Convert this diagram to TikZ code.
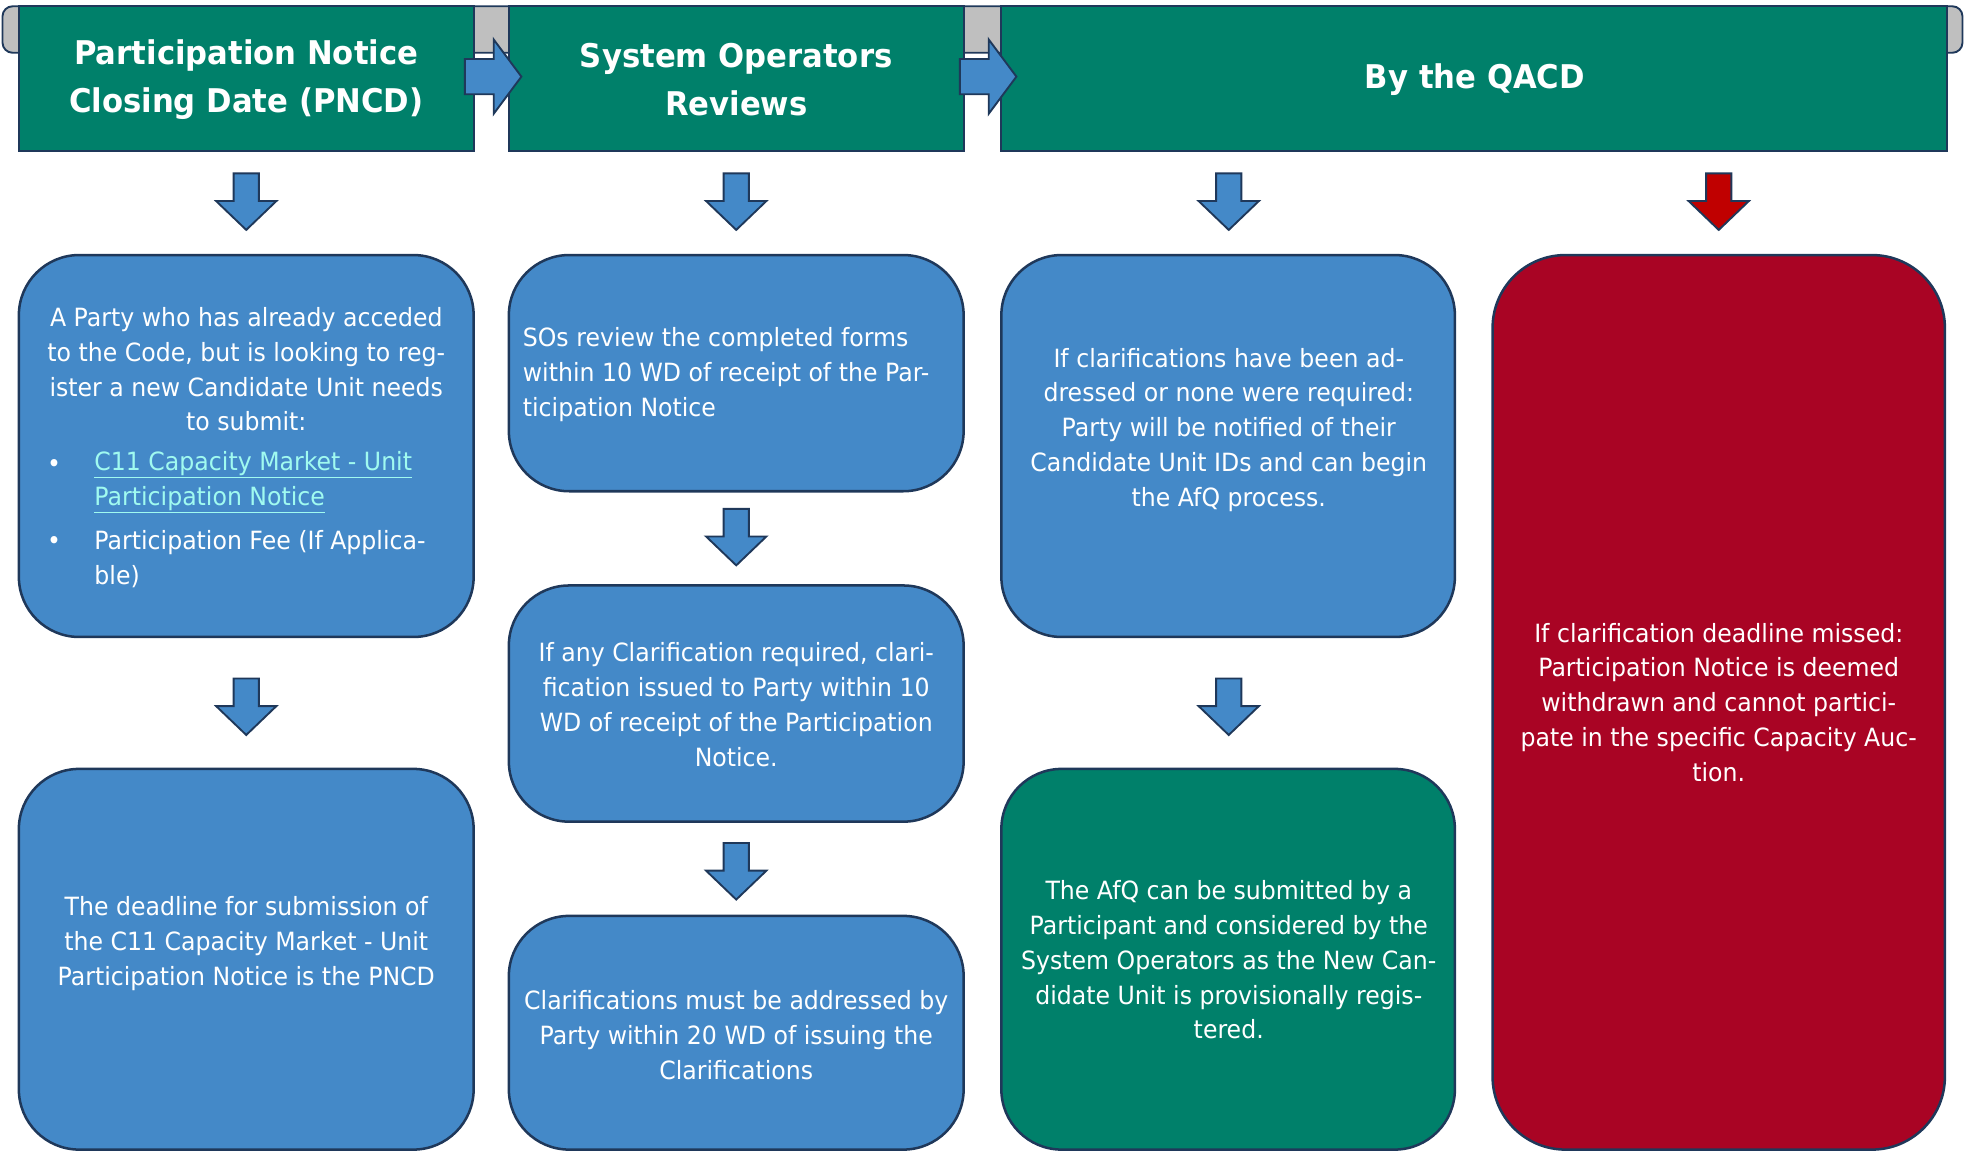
\documentclass[tikz,border=0pt]{standalone}
\usepackage{fontspec}
\setmainfont{DejaVu Sans}[FakeStretch=0.94]
\definecolor{hdr}{RGB}{0,128,106}
\definecolor{blu}{RGB}{68,137,200}
\definecolor{redb}{RGB}{169,4,36}
\definecolor{reda}{RGB}{192,0,0}
\definecolor{edgec}{RGB}{31,56,90}
\definecolor{barg}{RGB}{191,191,191}
\definecolor{linkc}{RGB}{160,250,240}
\newcommand\lnk[1]{{\color{linkc}\underline{#1}}}
\begin{document}
\begin{tikzpicture}[x=1pt,y=-1pt,
  hdrbox/.style={draw=edgec,line width=1.5pt,fill=hdr,rectangle,inner sep=0,minimum height=115pt},
  card/.style={draw=edgec,line width=2pt,rectangle,rounded corners=48pt,inner sep=0},
  txt/.style={text=white,inner sep=0,font=\fontsize{20}{27.7}\selectfont},
  htxt/.style={text=white,inner sep=0,align=center,font=\bfseries\fontsize{26}{38}\selectfont},
  arr/.style={draw=edgec,line width=1.5pt,fill=blu,line join=miter},
  arrred/.style={draw=edgec,line width=1.5pt,fill=reda,line join=miter},
  dn/.pic={\path[arr] (-10,0)--(10,0)--(10,22)--(24,22)--(0,45)--(-24,22)--(-10,22)--cycle;},
  dnred/.pic={\path[arrred] (-10,0)--(10,0)--(10,22)--(24,22)--(0,45)--(-24,22)--(-10,22)--cycle;},
  rt/.pic={\path[arr] (0,-14)--(23,-14)--(23,-29.5)--(45,0)--(23,29.5)--(23,14)--(0,14)--cycle;}
]
\useasboundingbox (0,0) rectangle (1568,917);
% top bar
\draw[draw=edgec,line width=1.5pt,fill=barg,rounded corners=8pt] (2,5) rectangle (1562,42);
% headers
\node[hdrbox,minimum width=362pt] (h1) at (196,62.5) {};
\node[hdrbox,minimum width=362pt] (h2) at (586,62.5) {};
\node[hdrbox,minimum width=753pt] (h3) at (1173.5,62.5) {};
\node[htxt] (ht1) at (196,63.5) {Participation Notice\\Closing Date (PNCD)};
\node[htxt] (ht2) at (586,63.5) {System Operators\\Reviews};
\node[htxt] (ht3) at (1174,63.5) {By the QACD};
\pic (r1) at (370,61) {rt};
\pic (r2) at (764,61) {rt};
% down arrows
\pic (d1) at (196,138) {dn};
\pic (d2) at (586,138) {dn};
\pic (d3) at (978,138) {dn};
\pic (d4) at (1368,138) {dnred};
\pic (d5) at (586,405) {dn};
\pic (d6) at (196,540) {dn};
\pic (d7) at (586,671) {dn};
\pic (d8) at (978,540) {dn};
% cards
\node[card,fill=blu,minimum width=362pt,minimum height=304pt] (b1) at (196,355) {};
\node[card,fill=blu,minimum width=362pt,minimum height=188pt] (b2) at (586,297) {};
\node[card,fill=blu,minimum width=361pt,minimum height=304pt] (b3) at (977.5,355) {};
\node[card,fill=redb,rounded corners=58pt,minimum width=360pt,minimum height=712pt] (b4) at (1368,559) {};
\node[card,fill=blu,minimum width=362pt,minimum height=188pt] (b5) at (586,560) {};
\node[card,fill=blu,minimum width=362pt,minimum height=186pt] (b6) at (586,822) {};
\node[card,fill=blu,minimum width=362pt,minimum height=303pt] (b7) at (196,763.5) {};
\node[card,fill=hdr,minimum width=361pt,minimum height=303pt] (b8) at (977.5,763.5) {};
% texts
\node[txt,align=center] (t1a) at (196,294) {A Party who has already acceded\\to the Code, but is looking to reg-\\ister a new Candidate Unit needs\\to submit:};
\node[txt] (bu1) at (43,371) {•};
\node[txt,anchor=west,align=left] (t1b) at (75,384) {\lnk{C11 Capacity Market - Unit}\\\lnk{Participation Notice}};
\node[txt] (bu2) at (43,432) {•};
\node[txt,anchor=west,align=left] (t1c) at (75,445) {Participation Fee (If Applica-\\ble)};
\node[txt,anchor=west,align=left] (t2) at (416,298) {SOs review the completed forms\\within 10 WD of receipt of the Par-\\ticipation Notice};
\node[txt,align=center] (t5) at (586,561) {If any Clarification required, clari-\\fication issued to Party within 10\\WD of receipt of the Participation\\Notice.};
\node[txt,align=center] (t6) at (586,824) {Clarifications must be addressed by\\Party within 20 WD of issuing the\\Clarifications};
\node[txt,align=center] (t3) at (978,342) {If clarifications have been ad-\\dressed or none were required:\\Party will be notified of their\\Candidate Unit IDs and can begin\\the AfQ process.};
\node[txt,align=center] (t8) at (978,764) {The AfQ can be submitted by a\\Participant and considered by the\\System Operators as the New Can-\\didate Unit is provisionally regis-\\tered.};
\node[txt,align=center] (t4) at (1368,559) {If clarification deadline missed:\\Participation Notice is deemed\\withdrawn and cannot partici-\\pate in the specific Capacity Auc-\\tion.};
\node[txt,align=center] (t7) at (196,751) {The deadline for submission of\\the C11 Capacity Market - Unit\\Participation Notice is the PNCD};
\end{tikzpicture}
\end{document}
